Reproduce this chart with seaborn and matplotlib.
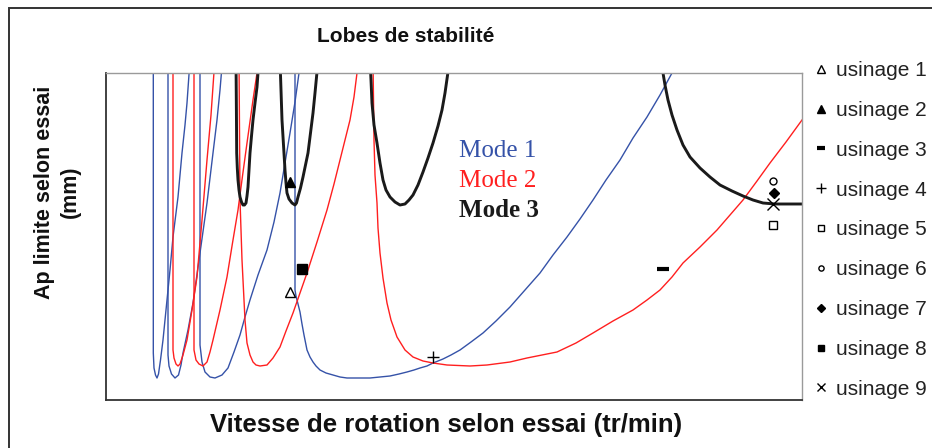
import matplotlib

matplotlib.use("Agg")

import matplotlib.pyplot as plt
from matplotlib.patches import Rectangle
import seaborn as sns

# speed / depth values (arbitrary chart units, no ticks shown)
mode1_lobes = [
    ([47.3, 47.3, 48, 49.5, 51, 52.5, 54.5, 57, 59, 61.5, 64, 67, 72, 76, 79, 81, 84],
     [340, 47, 32, 25, 22, 26, 40, 60, 80, 105, 130, 163, 203, 247, 275, 297, 340]),
    ([62, 62, 63, 65.5, 69, 72.5, 75, 77, 82, 87, 90.5, 94, 101, 107, 111, 114, 116.5],
     [340, 45, 34, 26, 22, 25, 35, 47, 70, 97, 122, 147, 197, 247, 280, 310, 340]),
    ([94, 94, 96, 99, 104, 109, 116, 122, 128, 134, 139, 144, 152, 161, 168, 174, 179,
      184, 189, 193, 195],
     [340, 55, 38, 28, 23, 22, 25, 32, 48, 65, 83, 100, 125, 150, 178, 207, 237,
      267, 298, 327, 340]),
    ([189, 189, 190, 191, 192.5, 194, 196, 198, 201, 204, 207, 210, 214, 220, 227, 234,
      241, 252, 264, 274, 284, 293, 301, 308, 314, 321, 327, 337, 345, 354, 365, 377,
      390, 404, 419, 434, 447, 461, 474, 487, 500, 514, 527, 541, 554, 566, 574],
     [340, 110, 104, 100, 94, 88, 76, 65, 50, 43, 38, 34, 30, 27, 25, 23,
      22, 22, 22, 23, 24, 26, 28, 30, 32, 34, 37, 41, 45, 50, 58, 67,
      79, 93, 110, 127, 145, 163, 181, 200, 220, 240, 262, 283, 305, 327, 340]),
]
mode2_lobes = [
    ([67, 67, 68, 70, 72, 74, 77, 81, 86, 91, 96, 101, 105, 108, 109],
     [340, 50, 42, 36, 34, 36, 45, 60, 90, 123, 180, 240, 285, 328, 340]),
    ([88, 88, 90, 93, 97, 101, 104, 107, 110.5, 114, 121, 126.5, 132, 136.5, 141, 147, 151, 152],
     [340, 50, 40, 36, 34, 38, 48, 60, 75, 90, 123, 157, 190, 224, 257, 300, 327, 340]),
    ([133, 134, 135, 136, 137.5, 139, 141, 144, 147, 150, 154, 161, 167, 174, 180, 187,
      194, 201, 211, 221, 228, 234, 239, 244, 248, 251, 253],
     [340, 200, 170, 140, 110, 80, 57, 45, 38, 35, 34, 35, 42, 53, 69, 87,
      107, 127, 158, 190, 216, 240, 260, 280, 303, 327, 340]),
    ([267, 267.5, 268, 269, 271, 272, 274, 277, 281, 285, 291, 299, 307, 317, 327, 341,
      364, 381, 404, 421, 451, 470, 487, 507, 527, 541, 554, 566, 577, 594, 611, 624,
      637, 651, 664, 680, 696, 704],
     [340, 300, 260, 225, 197, 172, 147, 122, 97, 80, 63, 50, 43, 39, 37, 35,
      34, 35, 38, 42, 48, 57, 67, 79, 90, 100, 110, 123, 137, 153, 170, 185,
      200, 219, 237, 258, 280, 290]),
]
mode3_lobes = [
    ([130, 130.4, 130.7, 131.3, 132, 133, 134, 135.5, 137, 138.5, 140, 141, 142, 143, 144,
      145.5, 147, 149, 151, 152, 153],
     [340, 290, 247, 232, 220, 210, 203, 198, 195, 195, 197, 204, 213, 230, 247,
      264, 280, 297, 313, 327, 340]),
    ([174, 175, 176, 177.5, 179, 180, 181, 183, 186, 189, 190.5, 192, 194.5, 197, 199.5,
      202, 204.5, 207, 209, 211, 212],
     [340, 310, 280, 255, 230, 217, 207, 201, 197, 195, 197, 203, 212, 223, 235,
      247, 267, 287, 307, 328, 340]),
    ([264, 265, 266, 268, 271, 274, 277, 280, 284, 289, 294, 299, 303, 307, 312, 317,
      322, 327, 332, 336, 339, 342, 344],
     [340, 320, 297, 275, 257, 237, 220, 210, 203, 198, 195, 196, 200, 205, 215, 228,
      242, 257, 274, 290, 307, 328, 340]),
    ([555, 557, 559, 562, 566, 571, 577, 584, 594, 604, 614, 626, 637, 647, 657, 669,
      696, 704],
     [340, 327, 315, 300, 285, 270, 255, 243, 232, 223, 215, 209, 204, 200, 197, 196,
      196, 196]),
]

essai_labels = [f"usinage {i}" for i in range(1, 10)]
essai_vitesse = [184, 184, 557, 327, 667, 667, 668, 196, 667]
essai_ap = [108, 218, 131, 43, 175, 219, 207, 131, 196]

BLUE = "#3552a8"
RED = "#ff1f1f"
BLACK = "#1a1a1a"

sns.set_theme(style="white")
plt.rcParams["font.family"] = ["Liberation Sans", "DejaVu Sans"]

fig = plt.figure(figsize=(9.32, 4.48), dpi=100)
W, H = 932, 448
ax = fig.add_axes([106 / W, (H - 400) / H, 696 / W, (400 - 72.5) / H])

for xs, ys in mode1_lobes:
    sns.lineplot(x=xs, y=ys, ax=ax, sort=False, estimator=None, color=BLUE, lw=1.0)
for xs, ys in mode2_lobes:
    sns.lineplot(x=xs, y=ys, ax=ax, sort=False, estimator=None, color=RED, lw=1.0)
for xs, ys in mode3_lobes:
    sns.lineplot(x=xs, y=ys, ax=ax, sort=False, estimator=None, color=BLACK, lw=2.1)

styles = [
    dict(marker="^", mfc="white", ms=7, mew=1.0),
    dict(marker="^", mfc="black", ms=7, mew=1.0),
    dict(marker="_", mfc="black", ms=8, mew=3.0),
    dict(marker="+", mfc="black", ms=9, mew=1.0),
    dict(marker="s", mfc="white", ms=5.5, mew=1.0),
    dict(marker="o", mfc="white", ms=5, mew=1.0),
    dict(marker="D", mfc="black", ms=5, mew=1.0),
    dict(marker="s", mfc="black", ms=6.5, mew=1.0),
    dict(marker="x", mfc="black", ms=8, mew=1.0),
]
for vx, vy, lab, st in zip(essai_vitesse, essai_ap, essai_labels, styles):
    ax.plot([vx], [vy], linestyle="none", mec="black", label=lab, zorder=5, **st)

ax.set_xlim(0, 696)
ax.set_ylim(0, 327.5)
ax.set_xticks([])
ax.set_yticks([])
ax.set_xlabel("")
ax.set_ylabel("")
for side in ["left", "bottom"]:
    ax.spines[side].set_color("#333333")
    ax.spines[side].set_linewidth(1.3)
for side in ["top", "right"]:
    ax.spines[side].set_color("#9a9a9a")
    ax.spines[side].set_linewidth(1.0)

ax.text(353, 243, "Mode 1", color=BLUE, fontsize=18, family="Liberation Serif", va="baseline")
ax.text(353, 213, "Mode 2", color=RED, fontsize=18, family="Liberation Serif", va="baseline")
ax.text(353, 183, "Mode 3", color=BLACK, fontsize=18, family="Liberation Serif",
        fontweight="bold", va="baseline")

leg = ax.legend(loc="upper left", bbox_to_anchor=(814 / W, 1 - 61 / H),
                bbox_transform=fig.transFigure, frameon=False, fontsize=15,
                handlelength=0.7, handletextpad=0.35, labelspacing=1.0,
                markerscale=0.75, borderaxespad=0, borderpad=0)
for t in leg.get_texts():
    t.set_color("#222222")

fig.text(406 / W, 1 - 37 / H, "Lobes de stabilité", ha="center", va="center",
         fontsize=15, fontweight="bold", color="#111111")
fig.text(446 / W, 1 - 425 / H, "Vitesse de rotation selon essai (tr/min)", ha="center",
         va="center", fontsize=18.5, fontweight="bold", color="#111111")
fig.text(57 / W, 1 - 192 / H, "Ap limite selon essai\n(mm)", ha="center", va="center",
         rotation=90, fontsize=15.5, fontweight="bold", color="#111111",
         multialignment="center", linespacing=1.3)

fig.patches.append(Rectangle((9 / W, -0.2), 1.2, 1.2 - 8 / H, transform=fig.transFigure,
                             fill=False, ec="#333333", lw=1.4))

fig.savefig("out.png", dpi=100)
